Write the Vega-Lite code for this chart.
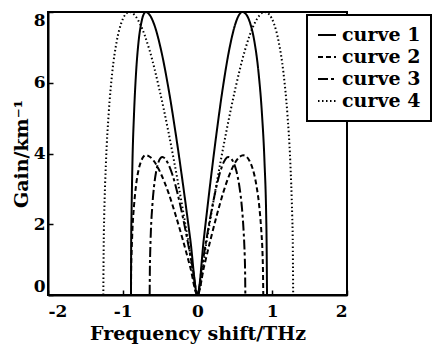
{
  "$schema": "https://vega.github.io/schema/vega-lite/v6.json",
  "width": 299,
  "height": 283,
  "autosize": {"type": "none"},
  "padding": {"left": 48, "top": 12, "right": 87, "bottom": 52},
  "background": "white",
  "data": {"values": [
    {"c":"curve 1","x":-0.89,"y":0},{"c":"curve 1","x":-0.887,"y":1.59},{"c":"curve 1","x":-0.883,"y":2.23},{"c":"curve 1","x":-0.870,"y":3.78},{"c":"curve 1","x":-0.849,"y":5.13},{"c":"curve 1","x":-0.822,"y":6.28},{"c":"curve 1","x":-0.788,"y":7.17},{"c":"curve 1","x":-0.753,"y":7.68},{"c":"curve 1","x":-0.719,"y":7.94},{"c":"curve 1","x":-0.69,"y":8},{"c":"curve 1","x":-0.634,"y":7.90},{"c":"curve 1","x":-0.585,"y":7.68},{"c":"curve 1","x":-0.488,"y":6.93},{"c":"curve 1","x":-0.390,"y":5.86},{"c":"curve 1","x":-0.293,"y":4.58},{"c":"curve 1","x":-0.195,"y":3.14},{"c":"curve 1","x":-0.0976,"y":1.59},{"c":"curve 1","x":0,"y":0},{"c":"curve 1","x":0.0848,"y":1.59},{"c":"curve 1","x":0.170,"y":3.14},{"c":"curve 1","x":0.255,"y":4.58},{"c":"curve 1","x":0.339,"y":5.86},{"c":"curve 1","x":0.424,"y":6.93},{"c":"curve 1","x":0.509,"y":7.68},{"c":"curve 1","x":0.551,"y":7.90},{"c":"curve 1","x":0.60,"y":8},{"c":"curve 1","x":0.648,"y":7.94},{"c":"curve 1","x":0.705,"y":7.68},{"c":"curve 1","x":0.761,"y":7.17},{"c":"curve 1","x":0.817,"y":6.28},{"c":"curve 1","x":0.862,"y":5.13},{"c":"curve 1","x":0.896,"y":3.78},{"c":"curve 1","x":0.919,"y":2.23},{"c":"curve 1","x":0.924,"y":1.59},{"c":"curve 1","x":0.93,"y":0},
    {"c":"curve 2","x":-0.89,"y":0},{"c":"curve 2","x":-0.887,"y":0.79},{"c":"curve 2","x":-0.883,"y":1.10},{"c":"curve 2","x":-0.870,"y":1.86},{"c":"curve 2","x":-0.849,"y":2.53},{"c":"curve 2","x":-0.822,"y":3.10},{"c":"curve 2","x":-0.788,"y":3.54},{"c":"curve 2","x":-0.753,"y":3.79},{"c":"curve 2","x":-0.719,"y":3.92},{"c":"curve 2","x":-0.69,"y":3.95},{"c":"curve 2","x":-0.634,"y":3.90},{"c":"curve 2","x":-0.585,"y":3.79},{"c":"curve 2","x":-0.488,"y":3.42},{"c":"curve 2","x":-0.390,"y":2.90},{"c":"curve 2","x":-0.293,"y":2.26},{"c":"curve 2","x":-0.195,"y":1.55},{"c":"curve 2","x":-0.0976,"y":0.79},{"c":"curve 2","x":0,"y":0},{"c":"curve 2","x":0.0863,"y":0.79},{"c":"curve 2","x":0.1725,"y":1.55},{"c":"curve 2","x":0.2588,"y":2.26},{"c":"curve 2","x":0.345,"y":2.90},{"c":"curve 2","x":0.431,"y":3.42},{"c":"curve 2","x":0.5176,"y":3.79},{"c":"curve 2","x":0.561,"y":3.90},{"c":"curve 2","x":0.61,"y":3.95},{"c":"curve 2","x":0.650,"y":3.92},{"c":"curve 2","x":0.696,"y":3.79},{"c":"curve 2","x":0.742,"y":3.54},{"c":"curve 2","x":0.788,"y":3.10},{"c":"curve 2","x":0.825,"y":2.53},{"c":"curve 2","x":0.852,"y":1.86},{"c":"curve 2","x":0.871,"y":1.10},{"c":"curve 2","x":0.875,"y":0.79},{"c":"curve 2","x":0.88,"y":0},
    {"c":"curve 3","x":-0.64,"y":0},{"c":"curve 3","x":-0.637,"y":0.78},{"c":"curve 3","x":-0.634,"y":1.09},{"c":"curve 3","x":-0.623,"y":1.84},{"c":"curve 3","x":-0.605,"y":2.50},{"c":"curve 3","x":-0.582,"y":3.06},{"c":"curve 3","x":-0.553,"y":3.49},{"c":"curve 3","x":-0.524,"y":3.74},{"c":"curve 3","x":-0.495,"y":3.87},{"c":"curve 3","x":-0.47,"y":3.9},{"c":"curve 3","x":-0.432,"y":3.85},{"c":"curve 3","x":-0.399,"y":3.74},{"c":"curve 3","x":-0.332,"y":3.38},{"c":"curve 3","x":-0.266,"y":2.86},{"c":"curve 3","x":-0.199,"y":2.23},{"c":"curve 3","x":-0.133,"y":1.53},{"c":"curve 3","x":-0.0665,"y":0.78},{"c":"curve 3","x":0,"y":0},{"c":"curve 3","x":0.058,"y":0.78},{"c":"curve 3","x":0.116,"y":1.53},{"c":"curve 3","x":0.174,"y":2.23},{"c":"curve 3","x":0.232,"y":2.86},{"c":"curve 3","x":0.290,"y":3.38},{"c":"curve 3","x":0.348,"y":3.74},{"c":"curve 3","x":0.377,"y":3.85},{"c":"curve 3","x":0.41,"y":3.9},{"c":"curve 3","x":0.444,"y":3.87},{"c":"curve 3","x":0.483,"y":3.74},{"c":"curve 3","x":0.522,"y":3.49},{"c":"curve 3","x":0.561,"y":3.06},{"c":"curve 3","x":0.593,"y":2.50},{"c":"curve 3","x":0.616,"y":1.84},{"c":"curve 3","x":0.632,"y":1.09},{"c":"curve 3","x":0.636,"y":0.78},{"c":"curve 3","x":0.64,"y":0},
    {"c":"curve 4","x":-1.26,"y":0},{"c":"curve 4","x":-1.254,"y":1.59},{"c":"curve 4","x":-1.248,"y":2.23},{"c":"curve 4","x":-1.224,"y":3.78},{"c":"curve 4","x":-1.188,"y":5.13},{"c":"curve 4","x":-1.141,"y":6.28},{"c":"curve 4","x":-1.081,"y":7.17},{"c":"curve 4","x":-1.021,"y":7.68},{"c":"curve 4","x":-0.961,"y":7.94},{"c":"curve 4","x":-0.91,"y":8},{"c":"curve 4","x":-0.836,"y":7.90},{"c":"curve 4","x":-0.772,"y":7.68},{"c":"curve 4","x":-0.643,"y":6.93},{"c":"curve 4","x":-0.515,"y":5.86},{"c":"curve 4","x":-0.386,"y":4.58},{"c":"curve 4","x":-0.2573,"y":3.14},{"c":"curve 4","x":-0.1287,"y":1.59},{"c":"curve 4","x":0,"y":0},{"c":"curve 4","x":0.1273,"y":1.59},{"c":"curve 4","x":0.2545,"y":3.14},{"c":"curve 4","x":0.382,"y":4.58},{"c":"curve 4","x":0.509,"y":5.86},{"c":"curve 4","x":0.636,"y":6.93},{"c":"curve 4","x":0.764,"y":7.68},{"c":"curve 4","x":0.827,"y":7.90},{"c":"curve 4","x":0.90,"y":8},{"c":"curve 4","x":0.956,"y":7.94},{"c":"curve 4","x":1.021,"y":7.68},{"c":"curve 4","x":1.085,"y":7.17},{"c":"curve 4","x":1.150,"y":6.28},{"c":"curve 4","x":1.202,"y":5.13},{"c":"curve 4","x":1.241,"y":3.78},{"c":"curve 4","x":1.267,"y":2.23},{"c":"curve 4","x":1.274,"y":1.59},{"c":"curve 4","x":1.28,"y":0}
  ]},
  "mark": {"type": "line", "color": "black", "strokeWidth": 2, "clip": true, "interpolate": "monotone"},
  "encoding": {
    "x": {"field": "x", "type": "quantitative", "scale": {"domain": [-2, 2], "nice": false},
      "axis": {"values": [-2, -1, 0, 1, 2], "title": "Frequency shift/THz", "labelFlush": true, "labelPadding": 13,
        "labelExpr": "datum.value < 0 ? '-' + abs(datum.value) : '' + datum.value", "titlePadding": 5, "titleFontSize": 19}},
    "y": {"field": "y", "type": "quantitative", "scale": {"domain": [0, 8], "nice": false},
      "axis": {"values": [0, 2, 4, 6, 8], "title": "Gain/km⁻¹", "labelFlush": true, "titlePadding": 2, "titleFontSize": 19}},
    "strokeDash": {"field": "c", "type": "nominal",
      "scale": {"domain": ["curve 1", "curve 2", "curve 3", "curve 4"], "range": [[1, 0], [5, 3], [10, 3, 3, 3], [1.5, 2.5]]},
      "legend": {"orient": "none", "legendX": 259, "legendY": 3, "title": null}}
  },
  "config": {
    "view": {"stroke": "black", "strokeWidth": 2},
    "axis": {
      "grid": false,
      "domainColor": "black", "domainWidth": 2,
      "tickColor": "black", "tickSize": -5, "tickWidth": 1.5,
      "labelFont": "DejaVu Serif", "labelFontSize": 17, "labelFontWeight": "bold", "labelColor": "black", "labelPadding": 8,
      "titleFont": "DejaVu Serif", "titleFontSize": 17, "titleFontWeight": "bold", "titleColor": "black"
    },
    "legend": {
      "fillColor": "white", "strokeColor": "black", "strokeWidth": 2, "padding": 10,
      "labelFont": "DejaVu Serif", "labelFontSize": 19, "labelFontWeight": "bold", "labelColor": "black",
      "symbolType": "stroke", "symbolSize": 324, "symbolStrokeWidth": 2, "symbolStrokeColor": "black",
      "rowPadding": 2, "labelOffset": 5
    }
  }
}
